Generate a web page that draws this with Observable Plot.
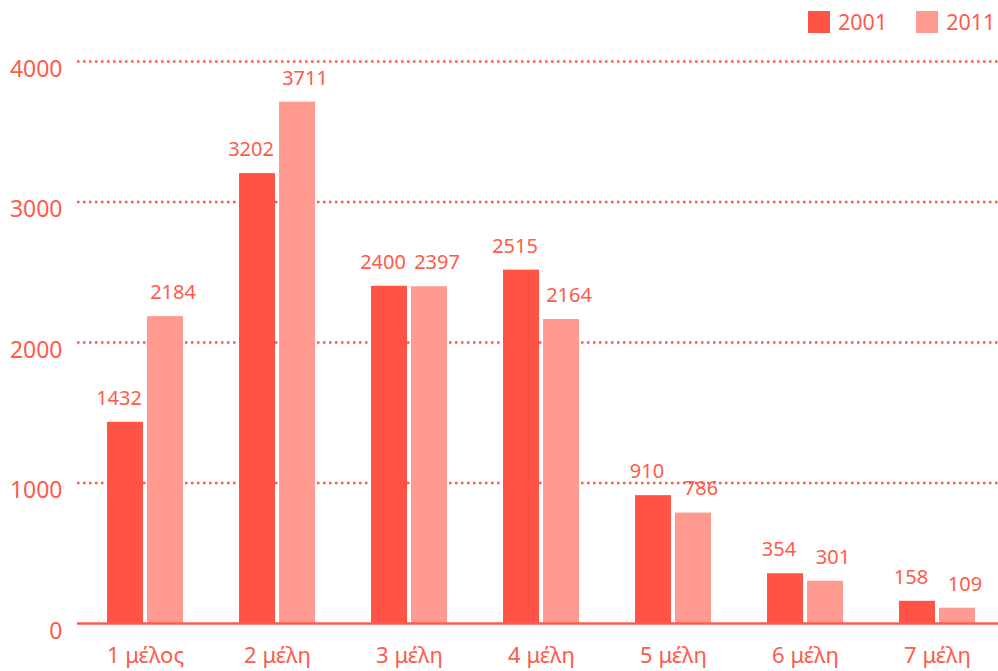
<!DOCTYPE html>
<html>
<head>
<meta charset="utf-8">
<script src="https://cdn.jsdelivr.net/npm/d3@7"></script>
<script src="https://cdn.jsdelivr.net/npm/@observablehq/plot@0.6"></script>
<style>
  html, body { margin: 0; padding: 0; background: #fff; }
  #wrap { position: relative; width: 998px; height: 671px; overflow: hidden; font-family: "Noto Sans", sans-serif; }
  #legend { position: absolute; top: 7px; left: 808px; display: flex; align-items: center; font-size: 21.5px; color: #ff5a4b; }
  .sw { width: 22px; height: 22px; display: inline-block; margin-right: 8px; }
  .item { display: flex; align-items: center; margin-right: 29px; }
</style>
</head>
<body>
<div id="wrap"><div id="legend"></div></div>
<script>
const categories = ["1 μέλος", "2 μέλη", "3 μέλη", "4 μέλη", "5 μέλη", "6 μέλη", "7 μέλη"];
const years = ["2001", "2011"];
const values2001 = [1432, 3202, 2400, 2515, 910, 354, 158];
const values2011 = [2184, 3711, 2397, 2164, 786, 301, 109];
const yTicks = [0, 1000, 2000, 3000, 4000];
const gridTicks = [1000, 2000, 3000, 4000];
const colors = ["#ff5445", "#ff9a90"];
const textColor = "#ff5a4b";

const d2001 = categories.map((c, i) => ({group: c, year: years[0], value: values2001[i]}));
const d2011 = categories.map((c, i) => ({group: c, year: years[1], value: values2011[i]}));

const chart = Plot.plot({
  width: 998,
  height: 671,
  marginTop: 61,
  marginBottom: 48,
  marginLeft: 77,
  marginRight: -7,
  style: {fontFamily: "Noto Sans, sans-serif", color: textColor, background: "transparent"},
  x: {domain: categories, paddingInner: 0.426, paddingOuter: 0.213, axis: null},
  y: {domain: [0, 4000], axis: null},
  marks: [
    Plot.gridY(gridTicks, {stroke: textColor, strokeWidth: 2.5, strokeDasharray: "2.5,3.5", strokeOpacity: 1}),
    Plot.barY(d2001, {x: "group", y: "value", fill: colors[0], insetRight: 40}),
    Plot.barY(d2011, {x: "group", y: "value", fill: colors[1], insetLeft: 40}),
    Plot.text(d2001, {x: "group", y: "value", text: d => String(d.value), dx: -26.5, dy: -24, fill: textColor, fontSize: 20}),
    Plot.text(d2011, {x: "group", y: "value", text: d => String(d.value), dx: 27.5, dy: -24, fill: textColor, fontSize: 20}),
    Plot.ruleY([0], {stroke: textColor, strokeWidth: 2.5}),
    Plot.axisX({anchor: "bottom", tickSize: 0, tickPadding: 24, fontSize: 22, color: textColor, label: null}),
    Plot.axisY({ticks: yTicks, tickFormat: d => String(d), tickSize: 0, tickPadding: 15, fontSize: 23, dy: 8, color: textColor, label: null})
  ]
});
document.getElementById("wrap").appendChild(chart);

const legend = document.getElementById("legend");
years.forEach((y, i) => {
  const item = document.createElement("div");
  item.className = "item";
  const sw = document.createElement("span");
  sw.className = "sw";
  sw.style.background = colors[i];
  const t = document.createElement("span");
  t.textContent = y;
  item.appendChild(sw);
  item.appendChild(t);
  legend.appendChild(item);
});
</script>
</body>
</html>
